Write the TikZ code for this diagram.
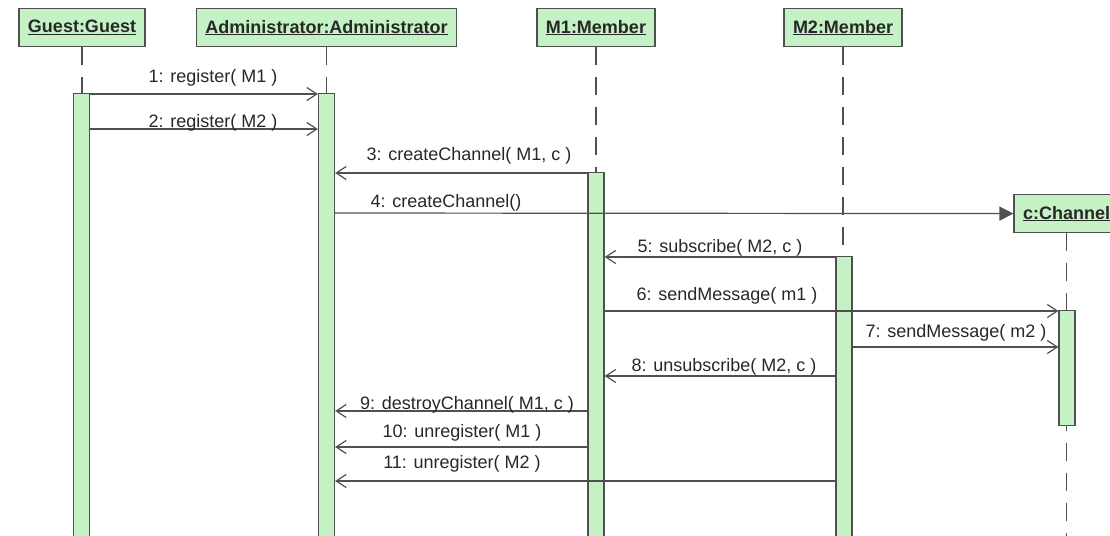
\documentclass[tikz,border=0pt]{standalone}
\usepackage{fontspec}
\setmainfont{Liberation Sans}
\usetikzlibrary{arrows.meta}
\definecolor{ln}{RGB}{80,80,80}
\definecolor{bx}{RGB}{196,242,196}
\definecolor{tx}{RGB}{40,40,40}
\begin{document}
\begin{tikzpicture}[x=1pt,y=-1pt,
 head/.style={draw=ln,fill=bx,line width=1.2pt,minimum height=38pt,inner xsep=9pt,inner ysep=0pt,font=\fontsize{18}{20}\selectfont\bfseries,text=tx,anchor=north},
 bar/.style={draw=ln,fill=bx,line width=1.2pt,minimum width=16pt,anchor=north,inner sep=0pt},
 life/.style={draw=ln,line width=1.2pt,dash pattern=on 18pt off 12pt},
 msg/.style={draw=ln,line width=1.2pt,-{Straight Barb[length=10pt,width=13pt,line width=1.2pt]}},
 create/.style={draw=ln,line width=1.2pt,-{Triangle[length=14pt,width=14pt]}},
 lbl/.style={font=\fontsize{18}{20}\selectfont,anchor=base,inner sep=0pt,text=tx}]
\useasboundingbox (0,0) rectangle (1110,535);
\fill[white] (0,0) rectangle (1110,535);
\coordinate (bot) at (0,545);
% heads
\node[head] (g) at (82,8) {\underline{Guest:Guest}};
\node[head] (a) at (326.5,8) {\underline{Administrator:Administrator}};
\node[head] (m1) at (596,8) {\underline{M1:Member}};
\node[head] (m2) at (843,8) {\underline{M2:Member}};
\node[head] (ch) at (1066.5,194) {\underline{c:Channel}};
% lifelines
\draw[life] (g.south) -- (g.south |- bot);
\draw[life] (a.south) -- (a.south |- bot);
\draw[life] (m1.south) -- (m1.south |- bot);
\draw[life] (m2.south) -- (m2.south |- bot);
\draw[life] (ch.south) -- (ch.south |- bot);
% activation bars
\node[bar,minimum height=452pt] (gb) at (81.5,93) {};
\node[bar,minimum height=452pt] (ab) at (326.5,93) {};
\node[bar,minimum height=373pt] (m1b) at (596,172) {};
\node[bar,minimum height=289pt] (m2b) at (844,256) {};
\node[bar,minimum height=115pt] (cb) at (1067,310) {};
% message rows
\coordinate (y1) at (0,94);
\coordinate (y2) at (0,129);
\coordinate (y3) at (0,173);
\coordinate (y4) at (0,213);
\coordinate (y5) at (0,257);
\coordinate (y6) at (0,311);
\coordinate (y7) at (0,347);
\coordinate (y8) at (0,376);
\coordinate (y9) at (0,411);
\coordinate (y10) at (0,447);
\coordinate (y11) at (0,481);
% messages
\draw[msg] (gb.east |- y1) -- (ab.west |- y1);
\draw[msg] (gb.east |- y2) -- (ab.west |- y2);
\draw[msg] (m1b.west |- y3) -- (ab.east |- y3);
\draw[create] (ab.east |- y4) -- (ch.west);
\draw[msg] (m2b.west |- y5) -- (m1b.east |- y5);
\draw[msg] (m1b.east |- y6) -- (cb.west |- y6);
\draw[msg] (m2b.east |- y7) -- (cb.west |- y7);
\draw[msg] (m2b.west |- y8) -- (m1b.east |- y8);
\draw[msg] (m1b.west |- y9) -- (ab.east |- y9);
\draw[msg] (m1b.west |- y10) -- (ab.east |- y10);
\draw[msg] (m2b.west |- y11) -- (ab.east |- y11);
% labels
\node[lbl] (l1) at (213,82) {1: register( M1 )};
\node[lbl] (l2) at (213,127) {2: register( M2 )};
\node[lbl] (l3) at (469,160) {3: createChannel( M1, c )};
\node[lbl] (l4) at (446,207) {4: createChannel()};
\node[lbl] (l5) at (720,252) {5: subscribe( M2, c )};
\node[lbl] (l6) at (727,300) {6: sendMessage( m1 )};
\node[lbl] (l7) at (956,337) {7: sendMessage( m2 )};
\node[lbl] (l8) at (724,371) {8: unsubscribe( M2, c )};
\node[lbl] (l9) at (467,409) {9: destroyChannel( M1, c )};
\node[lbl] (l10) at (462,437) {10: unregister( M1 )};
\node[lbl] (l11) at (462,468) {11: unregister( M2 )};
\end{tikzpicture}
\end{document}
